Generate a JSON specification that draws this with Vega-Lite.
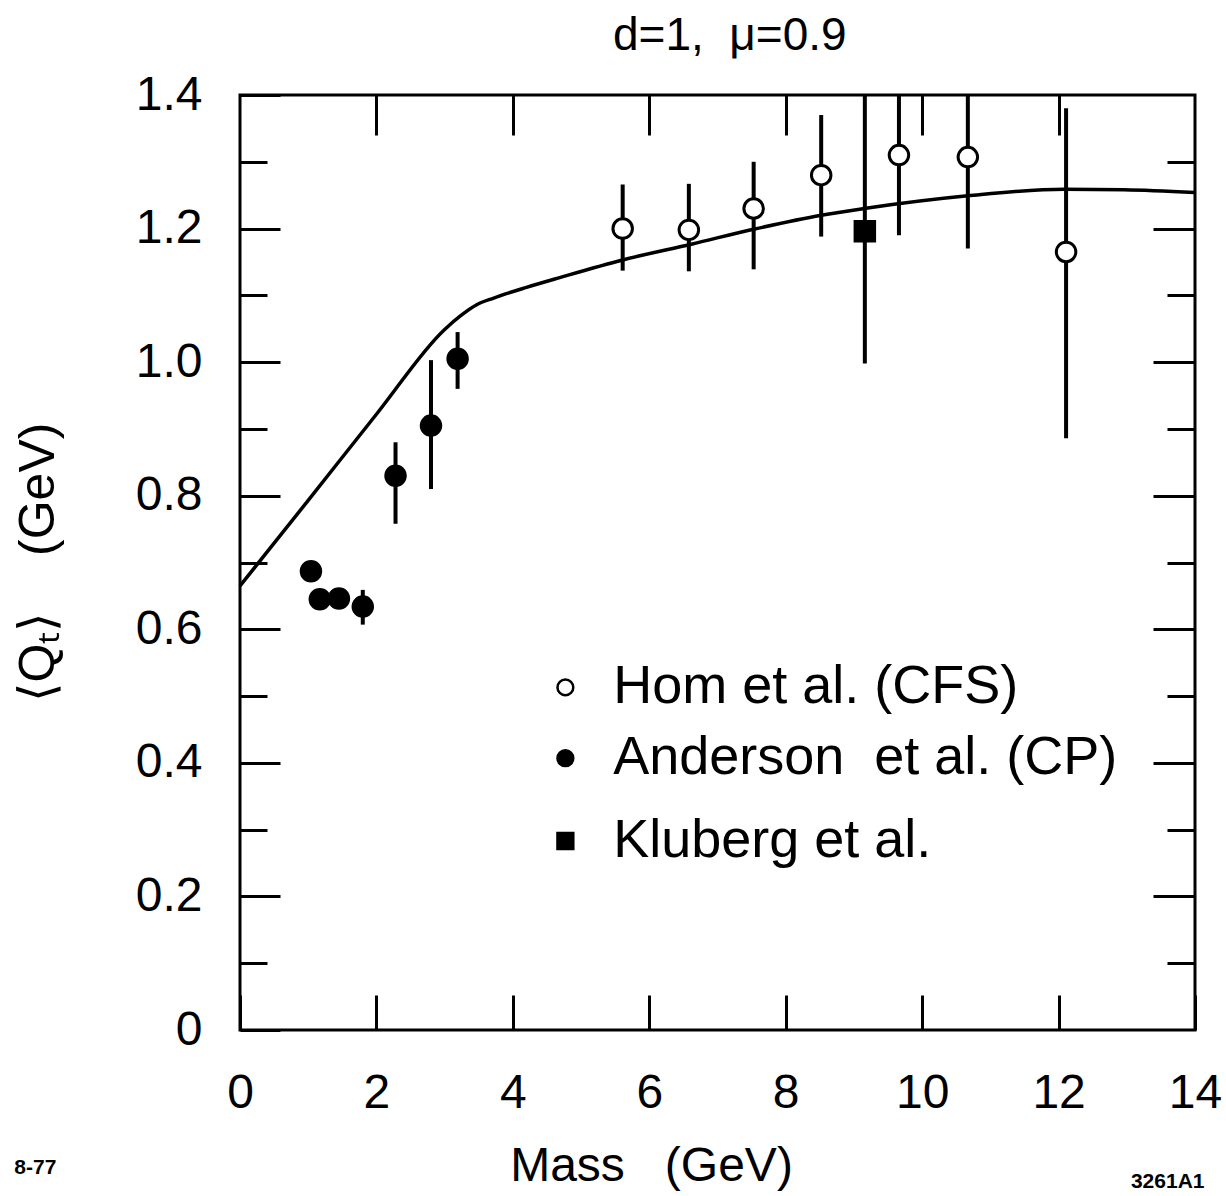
{
  "$schema": "https://vega.github.io/schema/vega-lite/v6.json",
  "width": 955,
  "height": 935,
  "autosize": {"type": "none"},
  "padding": {"left": 240, "top": 95, "right": 31, "bottom": 166},
  "background": "white",
  "config": {
    "view": {"stroke": "black", "strokeWidth": 3},
    "font": "Liberation Sans",
    "axis": {"domain": false, "grid": false, "tickColor": "black", "tickWidth": 3, "labelColor": "black", "titleColor": "black", "labelFont": "Liberation Sans", "titleFont": "Liberation Sans", "titleFontWeight": "normal", "labelFlush": false, "labelOverlap": false, "labelBound": false}
  },
  "datasets": {
    "curve": [
      {"mass": 0, "qt": 0.665}, {"mass": 1, "qt": 0.793}, {"mass": 2, "qt": 0.922}, {"mass": 3, "qt": 1.049},
      {"mass": 3.24, "qt": 1.07}, {"mass": 3.47, "qt": 1.086}, {"mass": 3.72, "qt": 1.096}, {"mass": 4.2, "qt": 1.112},
      {"mass": 4.7, "qt": 1.127}, {"mass": 5.61, "qt": 1.153}, {"mass": 6.63, "qt": 1.177}, {"mass": 7.53, "qt": 1.199},
      {"mass": 8.52, "qt": 1.22}, {"mass": 9.15, "qt": 1.23}, {"mass": 10.67, "qt": 1.249}, {"mass": 12.08, "qt": 1.259},
      {"mass": 12.96, "qt": 1.258}, {"mass": 14, "qt": 1.254}
    ],
    "points": [
      {"series": "CFS", "mass": 5.61, "qt": 1.2, "lo": 1.137, "hi": 1.266},
      {"series": "CFS", "mass": 6.58, "qt": 1.198, "lo": 1.136, "hi": 1.267},
      {"series": "CFS", "mass": 7.53, "qt": 1.23, "lo": 1.139, "hi": 1.3},
      {"series": "CFS", "mass": 8.52, "qt": 1.28, "lo": 1.188, "hi": 1.37},
      {"series": "CFS", "mass": 9.66, "qt": 1.31, "lo": 1.19, "hi": 1.4},
      {"series": "CFS", "mass": 10.67, "qt": 1.307, "lo": 1.17, "hi": 1.4},
      {"series": "CFS", "mass": 12.11, "qt": 1.165, "lo": 0.886, "hi": 1.38},
      {"series": "CP", "mass": 1.04, "qt": 0.687, "lo": null, "hi": null},
      {"series": "CP", "mass": 1.17, "qt": 0.645, "lo": null, "hi": null},
      {"series": "CP", "mass": 1.45, "qt": 0.646, "lo": null, "hi": null},
      {"series": "CP", "mass": 1.8, "qt": 0.634, "lo": 0.607, "hi": 0.659},
      {"series": "CP", "mass": 2.28, "qt": 0.83, "lo": 0.758, "hi": 0.88},
      {"series": "CP", "mass": 2.8, "qt": 0.905, "lo": 0.81, "hi": 1.003},
      {"series": "CP", "mass": 3.19, "qt": 1.005, "lo": 0.96, "hi": 1.045},
      {"series": "Kluberg", "mass": 9.16, "qt": 1.196, "lo": 0.998, "hi": 1.4}
    ],
    "legend": [
      {"series": "CFS", "sx": 4.77, "tx": 5.47, "ly": 0.513, "label": "Hom et al. (CFS)"},
      {"series": "CP", "sx": 4.77, "tx": 5.47, "ly": 0.407, "label": "Anderson\u00a0\u00a0et al. (CP)"},
      {"series": "Kluberg", "sx": 4.77, "tx": 5.47, "ly": 0.283, "label": "Kluberg et al."}
    ],
    "notes": [
      {"nx": 7.18, "ny": 1.467, "note": "d=1,\u00a0\u00a0μ=0.9", "kind": "title"},
      {"nx": -3.0, "ny": -0.206, "note": "8-77", "kind": "small"},
      {"nx": 13.6, "ny": -0.227, "note": "3261A1", "kind": "small"}
    ]
  },
  "layer": [
    {
      "data": {"name": "curve"},
      "mark": {"type": "line", "stroke": "black", "strokeWidth": 3.5, "interpolate": "monotone"},
      "encoding": {
        "x": {"field": "mass", "type": "quantitative", "scale": {"domain": [0, 14], "nice": false, "zero": false},
          "axis": {"orient": "bottom", "values": [0, 2, 4, 6, 8, 10, 12, 14], "tickSize": -35, "labelFontSize": 48, "labelPadding": 74,
            "title": "Mass\u00a0\u00a0\u00a0(GeV)", "titleFontSize": 48, "titleX": 411, "titleY": 150, "titleAlign": "center", "titleBaseline": "alphabetic", "titleAnchor": null}},
        "y": {"field": "qt", "type": "quantitative", "scale": {"domain": [0, 1.4], "nice": false},
          "axis": {"orient": "left", "values": [0, 0.2, 0.4, 0.6, 0.8, 1.0, 1.2, 1.4], "tickSize": -40, "labelFontSize": 48, "labelPadding": 78,
            "labelExpr": "datum.value == 0 ? '0' : format(datum.value, '.1f')",
            "title": "⟨Qₜ⟩\u00a0\u00a0\u00a0\u00a0(GeV)", "titleFontSize": 50, "titleX": -202, "titleY": 467, "titleAngle": -90, "titleAlign": "center", "titleBaseline": "middle", "titleAnchor": null}}
      }
    },
    {
      "data": {"name": "points"},
      "transform": [{"filter": "datum.series == 'CFS'"}],
      "mark": {"type": "rule", "stroke": "black", "strokeWidth": 4},
      "encoding": {
        "x": {"field": "mass", "type": "quantitative", "scale": {"domain": [0, 14], "nice": false, "zero": false},
          "axis": {"orient": "top", "values": [2, 4, 6, 8, 10, 12], "tickSize": -40, "labels": false, "title": null}},
        "y": {"field": "lo", "type": "quantitative", "scale": {"domain": [0, 1.4], "nice": false},
          "axis": {"orient": "right", "values": [0.2, 0.4, 0.6, 0.8, 1.0, 1.2], "tickSize": -42, "labels": false, "title": null}},
        "y2": {"field": "hi"}
      }
    },
    {
      "data": {"name": "points"},
      "transform": [{"filter": "datum.series == 'CP' && datum.lo != null"}],
      "mark": {"type": "rule", "stroke": "black", "strokeWidth": 4},
      "encoding": {
        "x": {"field": "mass", "type": "quantitative", "scale": {"domain": [0, 14], "nice": false, "zero": false}, "axis": null},
        "y": {"field": "lo", "type": "quantitative", "scale": {"domain": [0, 1.4], "nice": false},
          "axis": {"orient": "left", "values": [0.1, 0.3, 0.5, 0.7, 0.9, 1.1, 1.3], "tickSize": -27, "labels": false, "title": null}},
        "y2": {"field": "hi"}
      }
    },
    {
      "data": {"name": "points"},
      "transform": [{"filter": "datum.series == 'Kluberg'"}],
      "mark": {"type": "rule", "stroke": "black", "strokeWidth": 4},
      "encoding": {
        "x": {"field": "mass", "type": "quantitative", "scale": {"domain": [0, 14], "nice": false, "zero": false}, "axis": null},
        "y": {"field": "lo", "type": "quantitative", "scale": {"domain": [0, 1.4], "nice": false},
          "axis": {"orient": "right", "values": [0.1, 0.3, 0.5, 0.7, 0.9, 1.1, 1.3], "tickSize": -28, "labels": false, "title": null}},
        "y2": {"field": "hi"}
      }
    },
    {
      "data": {"name": "points"},
      "mark": {"type": "point", "filled": true, "stroke": "black", "strokeWidth": 3, "opacity": 1, "size": 380},
      "encoding": {
        "x": {"field": "mass", "type": "quantitative", "scale": {"domain": [0, 14], "nice": false, "zero": false}, "axis": null},
        "y": {"field": "qt", "type": "quantitative", "scale": {"domain": [0, 1.4], "nice": false}, "axis": null},
        "shape": {"field": "series", "type": "nominal", "scale": {"domain": ["CFS", "CP", "Kluberg"], "range": ["circle", "circle", "square"]}, "legend": null},
        "fill": {"field": "series", "type": "nominal", "scale": {"domain": ["CFS", "CP", "Kluberg"], "range": ["white", "black", "black"]}, "legend": null}
      }
    },
    {
      "data": {"name": "legend"},
      "mark": {"type": "point", "filled": true, "stroke": "black", "strokeWidth": 2.5, "opacity": 1, "size": 250},
      "encoding": {
        "x": {"field": "sx", "type": "quantitative", "scale": {"domain": [0, 14], "nice": false, "zero": false}, "axis": null},
        "y": {"field": "ly", "type": "quantitative", "scale": {"domain": [0, 1.4], "nice": false}, "axis": null},
        "shape": {"field": "series", "type": "nominal", "scale": {"domain": ["CFS", "CP", "Kluberg"], "range": ["circle", "circle", "square"]}, "legend": null},
        "fill": {"field": "series", "type": "nominal", "scale": {"domain": ["CFS", "CP", "Kluberg"], "range": ["white", "black", "black"]}, "legend": null}
      }
    },
    {
      "data": {"name": "legend"},
      "mark": {"type": "text", "align": "left", "baseline": "middle", "font": "Liberation Sans", "fontSize": 54, "color": "black"},
      "encoding": {
        "x": {"field": "tx", "type": "quantitative", "scale": {"domain": [0, 14], "nice": false, "zero": false}, "axis": null},
        "y": {"field": "ly", "type": "quantitative", "scale": {"domain": [0, 1.4], "nice": false}, "axis": null},
        "text": {"field": "label"}
      }
    },
    {
      "data": {"name": "notes"},
      "transform": [{"filter": "datum.kind == 'title'"}],
      "mark": {"type": "text", "align": "center", "baseline": "alphabetic", "font": "Liberation Sans", "fontSize": 46, "color": "black"},
      "encoding": {
        "x": {"field": "nx", "type": "quantitative", "scale": {"domain": [0, 14], "nice": false, "zero": false}, "axis": null},
        "y": {"field": "ny", "type": "quantitative", "scale": {"domain": [0, 1.4], "nice": false}, "axis": null},
        "text": {"field": "note"}
      }
    },
    {
      "data": {"name": "notes"},
      "transform": [{"filter": "datum.kind == 'small'"}],
      "mark": {"type": "text", "align": "center", "baseline": "middle", "font": "Liberation Sans", "fontWeight": "bold", "fontSize": 21, "color": "black"},
      "encoding": {
        "x": {"field": "nx", "type": "quantitative", "scale": {"domain": [0, 14], "nice": false, "zero": false}, "axis": null},
        "y": {"field": "ny", "type": "quantitative", "scale": {"domain": [0, 1.4], "nice": false}, "axis": null},
        "text": {"field": "note"}
      }
    }
  ],
  "resolve": {"axis": {"x": "independent", "y": "independent"}}
}
